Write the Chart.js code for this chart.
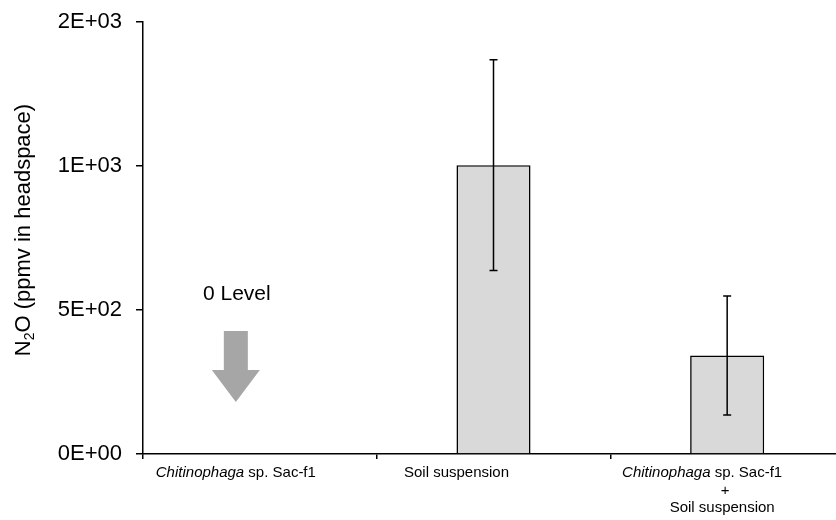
<!DOCTYPE html>
<html lang="en">
<head>
<meta charset="UTF-8">
<title>N2O in headspace</title>
<script src="https://cdn.jsdelivr.net/npm/chart.js"></script>
<style>
  html, body { margin: 0; padding: 0; overflow: hidden; background: #fff; }
  #wrap { width: 844px; height: 520px; }
</style>
</head>
<body>
<div id="wrap"><canvas id="n2oChart"></canvas></div>
<script>
// data
const categories = ['Chitinophaga sp. Sac-f1', 'Soil suspension', 'Chitinophaga sp. Sac-f1 + Soil suspension'];
// each label as lines of [text, italic] runs
const categoryLines = [
    [[['Chitinophaga', true], [' sp. Sac-f1', false]]],
    [[['Soil suspension', false]]],
    [[['Chitinophaga', true], [' sp. Sac-f1', false]], [['+', false]], [['Soil suspension', false]]]
];
const n2oMean = [0, 1003, 342];
const n2oError = [0, 366, 207];
const yTicks = [0, 500, 1000, 1500];

const FONT = '"Liberation Sans", Arial, sans-serif';

// Excel style 0E+00
function excelExp(v) {
    const s = Number(v).toExponential(0);
    const parts = s.split('e');
    const exp = parseInt(parts[1], 10);
    const sign = exp < 0 ? '-' : '+';
    return parts[0] + 'E' + sign + String(Math.abs(exp)).padStart(2, '0');
}

const drawExtras = {
    id: 'drawExtras',
    afterDatasetsDraw(chart) {
        const ctx = chart.ctx;
        const y = chart.scales.y;
        const meta = chart.getDatasetMeta(0);
        ctx.save();
        ctx.strokeStyle = '#000';
        ctx.lineWidth = 1.5;
        meta.data.forEach((bar, i) => {
            const err = n2oError[i];
            if (!err) return;
            const top = y.getPixelForValue(n2oMean[i] + err);
            const bot = y.getPixelForValue(n2oMean[i] - err);
            ctx.beginPath();
            ctx.moveTo(bar.x, top); ctx.lineTo(bar.x, bot);
            ctx.moveTo(bar.x - 4, top); ctx.lineTo(bar.x + 4, top);
            ctx.moveTo(bar.x - 4, bot); ctx.lineTo(bar.x + 4, bot);
            ctx.stroke();
        });
        ctx.restore();
    },
    afterDraw(chart) {
        const ctx = chart.ctx;
        const x = chart.scales.x;
        const area = chart.chartArea;
        ctx.save();
        ctx.fillStyle = '#000';

        // x labels
        const shifts = [[-24], [-37], [-25, -2, -5]];
        ctx.textBaseline = 'alphabetic';
        ctx.textAlign = 'left';
        categoryLines.forEach((lines, i) => {
            const cx = x.getPixelForValue(i);
            lines.forEach((runs, j) => {
                let w = 0;
                runs.forEach(r => {
                    ctx.font = (r[1] ? 'italic ' : '') + '15px ' + FONT;
                    w += ctx.measureText(r[0]).width;
                });
                let px = cx + shifts[i][j] - w / 2;
                const py = area.bottom + 23 + j * 17.5;
                runs.forEach(r => {
                    ctx.font = (r[1] ? 'italic ' : '') + '15px ' + FONT;
                    ctx.fillText(r[0], px, py);
                    px += ctx.measureText(r[0]).width;
                });
            });
        });

        // y title with subscript
        ctx.translate(24, 230);
        ctx.rotate(-Math.PI / 2);
        const big = '22px ' + FONT, small = '14px ' + FONT;
        ctx.font = big;
        const wN = ctx.measureText('N').width;
        const wRest = ctx.measureText('O (ppmv in headspace)').width;
        ctx.font = small;
        const w2 = ctx.measureText('2').width;
        let tx = -(wN + w2 + wRest) / 2;
        ctx.textBaseline = 'middle';
        ctx.font = big;
        ctx.fillText('N', tx, 0); tx += wN;
        ctx.font = small;
        ctx.fillText('2', tx, 6); tx += w2;
        ctx.font = big;
        ctx.fillText('O (ppmv in headspace)', tx, 0);
        ctx.setTransform(1, 0, 0, 1, 0, 0);

        // "0 Level" note with arrow
        const ax = x.getPixelForValue(0) - 24;
        ctx.font = '21px ' + FONT;
        ctx.textAlign = 'center';
        ctx.textBaseline = 'alphabetic';
        ctx.fillText('0 Level', ax + 1, 300);
        ctx.fillStyle = '#a6a6a6';
        ctx.beginPath();
        ctx.moveTo(ax - 12, 331);
        ctx.lineTo(ax + 12, 331);
        ctx.lineTo(ax + 12, 370);
        ctx.lineTo(ax + 24, 370);
        ctx.lineTo(ax, 402);
        ctx.lineTo(ax - 24, 370);
        ctx.lineTo(ax - 12, 370);
        ctx.closePath();
        ctx.fill();
        ctx.restore();
    }
};

const ctx = document.getElementById('n2oChart').getContext('2d');
new Chart(ctx, {
    type: 'bar',
    data: {
        labels: categories,
        datasets: [{
            data: n2oMean,
            backgroundColor: '#d9d9d9',
            borderColor: '#000',
            borderWidth: 1.6,
            borderSkipped: 'bottom',
            barPercentage: 0.317,
            categoryPercentage: 1
        }]
    },
    options: {
        responsive: true,
        maintainAspectRatio: false,
        animation: false,
        layout: { padding: { top: 22, left: 0, right: 0, bottom: 0 } },
        plugins: { legend: { display: false }, tooltip: { enabled: false } },
        scales: {
            x: {
                offset: true,
                grid: { display: true, drawOnChartArea: false, offset: true, tickLength: 5, color: '#000', lineWidth: 1.5 },
                border: { display: true, color: '#000', width: 1.5 },
                ticks: { display: false },
                afterFit: s => { s.height = 66; }
            },
            y: {
                min: 0,
                max: 1500,
                afterBuildTicks: s => { s.ticks = yTicks.map(v => ({ value: v })); },
                grid: { display: true, drawOnChartArea: false, tickLength: 7, color: '#000', lineWidth: 1.5 },
                border: { display: true, color: '#000', width: 1.5 },
                ticks: {
                    color: '#000',
                    padding: 14,
                    font: { size: 22, family: FONT },
                    callback: v => excelExp(v)
                },
                afterFit: s => { s.width = 143; s.paddingTop = 0; s.paddingBottom = 0; }
            }
        }
    },
    plugins: [drawExtras]
});
</script>
</body>
</html>
